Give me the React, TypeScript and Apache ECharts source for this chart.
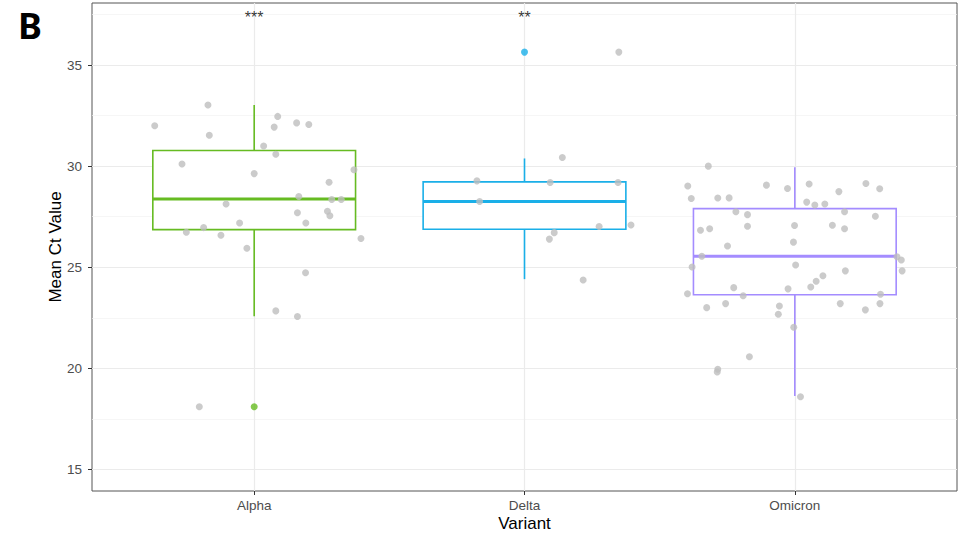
import React, { useEffect, useRef } from "react";
import * as echarts from "echarts";

const variants = ["Alpha", "Delta", "Omicron"];
const boxColors = ["#66BB22", "#1AAFE8", "#A48CFF"];
// [lower whisker, Q1, median, Q3, upper whisker]
const boxStats = [
  [22.57, 26.86, 28.37, 30.77, 33.02],
  [24.41, 26.88, 28.25, 29.22, 30.38],
  [18.63, 23.64, 25.54, 27.9, 29.95],
];
// outliers: [category index (1-based), value]
const outliers = [
  [1, 18.1],
  [2, 35.64],
];
const significance = [
  [1, 37.35, "***"],
  [2, 37.35, "**"],
];
const yTicks = [15, 20, 25, 30, 35];
const yMinor = [17.5, 22.5, 27.5, 32.5, 37.5];

// jittered points: [horizontal jitter offset, value]
const alphaPoints = [
  [-0.171, 33.02], [-0.368, 32.0], [-0.166, 31.53], [0.087, 32.46], [0.074, 31.93],
  [0.157, 32.14], [0.202, 32.06], [0.035, 31.0], [0.08, 30.59], [-0.267, 30.11],
  [0.0, 29.63], [0.369, 29.82], [0.277, 29.2], [0.165, 28.5], [0.287, 28.35],
  [0.322, 28.35], [-0.104, 28.13], [0.16, 27.69], [0.271, 27.77], [0.28, 27.55],
  [0.191, 27.19], [-0.054, 27.19], [-0.251, 26.73], [-0.187, 26.96], [-0.123, 26.58],
  [0.395, 26.42], [-0.027, 25.94], [0.19, 24.73], [0.08, 22.84], [0.16, 22.56],
  [-0.203, 18.1],
];
const deltaPoints = [
  [0.349, 35.64], [0.14, 30.43], [-0.176, 29.27], [0.095, 29.19], [0.346, 29.19],
  [-0.166, 28.25], [0.276, 27.01], [0.394, 27.09], [0.11, 26.71], [0.092, 26.39],
  [0.217, 24.37],
];
const omicronPoints = [
  [-0.32, 30.0], [-0.396, 29.02], [-0.383, 28.4], [-0.285, 28.42], [-0.243, 28.43],
  [-0.105, 29.06], [-0.027, 28.89], [0.053, 29.12], [0.163, 28.74], [0.263, 29.14],
  [0.314, 28.88], [0.044, 28.22], [0.074, 28.08], [0.111, 28.13], [-0.218, 27.74],
  [-0.175, 27.6], [0.184, 27.74], [0.298, 27.52], [-0.175, 27.03], [-0.001, 27.06],
  [0.139, 27.08], [-0.349, 26.83], [-0.315, 26.9], [0.184, 26.9], [-0.249, 26.05],
  [-0.005, 26.24], [-0.344, 25.54], [0.378, 25.52], [0.394, 25.36], [-0.38, 25.01],
  [0.003, 25.11], [0.397, 24.82], [0.187, 24.82], [0.104, 24.58], [0.079, 24.31],
  [0.059, 24.02], [-0.226, 23.99], [-0.025, 23.93], [-0.397, 23.69], [-0.191, 23.59],
  [0.317, 23.66], [-0.256, 23.2], [-0.326, 23.0], [-0.057, 23.08], [0.168, 23.2],
  [0.315, 23.2], [0.261, 22.89], [-0.061, 22.67], [-0.004, 22.03], [-0.168, 20.57],
  [-0.285, 19.95], [-0.287, 19.82], [0.021, 18.59],
];

const jitterGroups = [alphaPoints, deltaPoints, omicronPoints];

export default function App() {
  const ref = useRef<HTMLDivElement>(null);
  useEffect(() => {
    if (!ref.current) return;
    const chart = echarts.init(ref.current, null, { renderer: "svg" });

    const boxData = boxStats.map((s, i) => [i + 1, ...s]);
    const jitterData: number[][] = [];
    jitterGroups.forEach((g, i) => g.forEach(([o, v]) => jitterData.push([i + 1 + o, v])));

    const gridLines: any[] = [];
    yTicks.forEach((v) => gridLines.push({ yAxis: v, lineStyle: { color: "#EBEBEB", width: 1.2, type: "solid" } }));
    yMinor.forEach((v) => gridLines.push({ yAxis: v, lineStyle: { color: "#F2F2F2", width: 0.7, type: "solid" } }));
    variants.forEach((_, i) => gridLines.push({ xAxis: i + 1, lineStyle: { color: "#EBEBEB", width: 1.2, type: "solid" } }));

    const option: any = {
      animation: false,
      backgroundColor: "#ffffff",
      grid: {
        left: 92,
        right: 10,
        top: 3,
        bottom: 45,
        show: true,
        containLabel: false,
        outerBoundsMode: "none",
        borderColor: "#555555",
        borderWidth: 1,
        backgroundColor: "transparent",
      },
      xAxis: {
        type: "value",
        min: 0.4,
        max: 3.6,
        name: "Variant",
        nameLocation: "middle",
        nameGap: 24,
        nameMoveOverlap: false,
        nameTextStyle: { fontFamily: "Liberation Sans", fontSize: 17, color: "#000" },
        axisLine: { show: false },
        splitLine: { show: false },
        axisTick: { show: true, customValues: [1, 2, 3], length: 4, lineStyle: { color: "#333" } },
        axisLabel: {
          customValues: [1, 2, 3],
          margin: 7,
          fontFamily: "Liberation Sans",
          fontSize: 13.5,
          color: "#4D4D4D",
          formatter: (v: number) => variants[Math.round(v) - 1] ?? "",
        },
      },
      yAxis: {
        type: "value",
        min: 13.93,
        max: 38.07,
        name: "Mean Ct Value",
        nameLocation: "middle",
        nameGap: 28,
        nameMoveOverlap: false,
        nameTextStyle: { fontFamily: "Liberation Sans", fontSize: 17, color: "#000" },
        axisLine: { show: false },
        splitLine: { show: false },
        axisTick: { show: true, customValues: yTicks, length: 4, lineStyle: { color: "#333" } },
        axisLabel: {
          customValues: yTicks,
          margin: 10,
          fontFamily: "Liberation Sans",
          fontSize: 13.5,
          color: "#4D4D4D",
        },
      },
      series: [
        {
          type: "scatter",
          data: [],
          silent: true,
          z: 1,
          markLine: {
            silent: true,
            z: 1,
            symbol: "none",
            label: { show: false },
            data: gridLines,
          },
        },
        {
          type: "custom",
          z: 10,
          data: boxData,
          renderItem: (params: any, api: any) => {
            const x = api.value(0);
            const lo = api.value(1);
            const q1 = api.value(2);
            const med = api.value(3);
            const q3 = api.value(4);
            const hi = api.value(5);
            const color = boxColors[params.dataIndex];
            const tl = api.coord([x - 0.375, q3]);
            const br = api.coord([x + 0.375, q1]);
            const m1 = api.coord([x - 0.375, med]);
            const m2 = api.coord([x + 0.375, med]);
            const cx = api.coord([x, q3])[0];
            const pHi = api.coord([x, hi]);
            const pLo = api.coord([x, lo]);
            return {
              type: "group",
              children: [
                {
                  type: "line",
                  shape: { x1: cx, y1: pHi[1], x2: cx, y2: tl[1] },
                  style: { stroke: color, lineWidth: 1.6 },
                },
                {
                  type: "line",
                  shape: { x1: cx, y1: br[1], x2: cx, y2: pLo[1] },
                  style: { stroke: color, lineWidth: 1.6 },
                },
                {
                  type: "rect",
                  shape: { x: tl[0], y: tl[1], width: br[0] - tl[0], height: br[1] - tl[1] },
                  style: { fill: "#ffffff", stroke: color, lineWidth: 1.6 },
                },
                {
                  type: "line",
                  shape: { x1: m1[0], y1: m1[1], x2: m2[0], y2: m2[1] },
                  style: { stroke: color, lineWidth: 3 },
                },
              ],
            };
          },
        },
        {
          type: "scatter",
          z: 11,
          data: outliers.map(([c, v], i) => ({ value: [c, v], itemStyle: { color: boxColors[i] } })),
          symbolSize: 7,
        },
        {
          type: "scatter",
          z: 12,
          data: jitterData,
          symbolSize: 7,
          itemStyle: { color: "#BEBEBE" },
        },
        {
          type: "scatter",
          z: 13,
          data: significance.map(([c, v, t]) => ({ value: [c, v], name: t })),
          symbolSize: 0,
          label: {
            show: true,
            position: "inside",
            formatter: (p: any) => p.name,
            fontFamily: "Liberation Sans",
            fontSize: 16,
            color: "#000",
          },
        },
      ],
      graphic: [
        {
          type: "text",
          left: 18,
          top: 7,
          style: { text: "B", fontFamily: "Noto Sans", fontSize: 36, fontWeight: "bold", fill: "#000" },
        },
      ],
    };
    chart.setOption(option);
    return () => chart.dispose();
  }, []);
  return <div ref={ref} style={{ position: "fixed", left: 0, top: 0, width: 967, height: 536 }} />;
}
